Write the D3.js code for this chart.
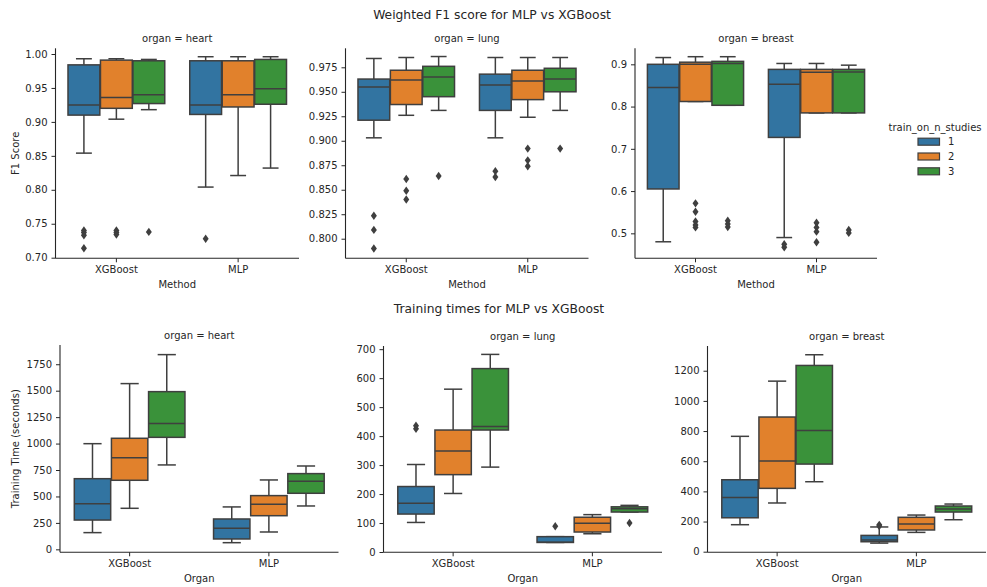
<!DOCTYPE html>
<html>
<head>
<meta charset="utf-8">
<script src="https://cdn.jsdelivr.net/npm/d3@7"></script>
<style>
  body { margin: 0; background: #fff; }
  svg { display: block; font-family: "DejaVu Sans", sans-serif; }
</style>
</head>
<body>
<svg id="chart" width="987" height="587"></svg>
<script>
// ---- data ----
const methods = ["XGBoost", "MLP"];
const studies = ["1", "2", "3"];
const organs = ["heart", "lung", "breast"];

// Box statistics per method x studies: [whiskerLow, q1, median, q3, whiskerHigh, outliers]
// order: XGBoost-1, XGBoost-2, XGBoost-3, MLP-1, MLP-2, MLP-3
const f1Heart = [
  [0.854, 0.910, 0.925, 0.984, 0.993, [0.740, 0.737, 0.733, 0.714]],
  [0.904, 0.920, 0.936, 0.991, 0.993, [0.740, 0.737, 0.734]],
  [0.918, 0.927, 0.940, 0.990, 0.992, [0.738]],
  [0.804, 0.911, 0.925, 0.990, 0.996, [0.728]],
  [0.821, 0.922, 0.940, 0.990, 0.996, []],
  [0.832, 0.926, 0.949, 0.992, 0.996, []]
];
const f1Lung = [
  [0.903, 0.921, 0.955, 0.963, 0.984, [0.8235, 0.809, 0.790]],
  [0.926, 0.937, 0.962, 0.972, 0.985, [0.861, 0.849, 0.840]],
  [0.931, 0.945, 0.965, 0.976, 0.986, [0.864]],
  [0.903, 0.931, 0.957, 0.968, 0.985, [0.869, 0.863]],
  [0.924, 0.942, 0.961, 0.972, 0.985, [0.892, 0.880, 0.874]],
  [0.931, 0.950, 0.963, 0.974, 0.985, [0.892]]
];
const f1Breast = [
  [0.480, 0.605, 0.845, 0.900, 0.916, []],
  [0.812, 0.812, 0.900, 0.905, 0.918, [0.571, 0.551, 0.528, 0.520, 0.514]],
  [0.803, 0.803, 0.902, 0.907, 0.918, [0.530, 0.522, 0.515]],
  [0.490, 0.727, 0.853, 0.888, 0.902, [0.474, 0.467]],
  [0.785, 0.785, 0.881, 0.888, 0.902, [0.525, 0.514, 0.504, 0.479]],
  [0.785, 0.785, 0.882, 0.888, 0.898, [0.508, 0.501]]
];
const timeHeart = [
  [158, 277, 432, 668, 999, []],
  [388, 653, 867, 1050, 1567, []],
  [798, 1059, 1189, 1491, 1841, []],
  [63, 98, 199, 287, 401, []],
  [164, 318, 426, 508, 656, []],
  [410, 530, 643, 716, 788, []]
];
const timeLung = [
  [102, 131, 168, 226, 302, [436, 425]],
  [202, 267, 349, 421, 562, []],
  [293, 421, 433, 633, 682, []],
  [33, 33, 34, 53, 53, [89]],
  [63, 69, 99, 120, 129, []],
  [138, 138, 149, 156, 161, [100]]
];
const timeBreast = [
  [179, 225, 360, 477, 765, []],
  [323, 420, 601, 893, 1131, []],
  [464, 581, 804, 1235, 1306, []],
  [57, 66, 77, 108, 164, [178, 170]],
  [128, 144, 183, 228, 243, []],
  [212, 263, 283, 303, 316, []]
];

const f1Ticks = {
  heart: [0.70, 0.75, 0.80, 0.85, 0.90, 0.95, 1.00],
  lung: [0.800, 0.825, 0.850, 0.875, 0.900, 0.925, 0.950, 0.975],
  breast: [0.5, 0.6, 0.7, 0.8, 0.9]
};
const timeTicks = {
  heart: [0, 250, 500, 750, 1000, 1250, 1500, 1750],
  lung: [0, 100, 200, 300, 400, 500, 600, 700],
  breast: [0, 200, 400, 600, 800, 1000, 1200]
};

// ---- styling ----
const palette = ["#3274a1", "#e1812c", "#3a923a"];
const lineColor = "#3f3f3f";
const axisColor = "#262626";

const svg = d3.select("#chart");

// panel frames
const panels = [
  { data: f1Heart,    organ: "heart",  x: [55.5, 299],  y: [258.3, 48.3], dom: [0.6991, 1.0084], ticks: f1Ticks.heart,  fmt: d3.format(".2f"), xlabel: "Method", ylabel: "F1 Score" },
  { data: f1Lung,     organ: "lung",   x: [345.5, 588.5], y: [258.3, 48.3], dom: [0.780, 0.9944], ticks: f1Ticks.lung, fmt: d3.format(".3f"), xlabel: "Method" },
  { data: f1Breast,   organ: "breast", x: [635, 877], y: [258.3, 48.3], dom: [0.4409, 0.9379], ticks: f1Ticks.breast, fmt: d3.format(".1f"), xlabel: "Method" },
  { data: timeHeart,  organ: "heart",  x: [60, 338.5], y: [552.3, 345], dom: [-28, 1932], ticks: timeTicks.heart, fmt: d3.format("d"), xlabel: "Organ", ylabel: "Training Time (seconds)" },
  { data: timeLung,   organ: "lung",   x: [383.5, 662], y: [552.3, 346], dom: [-1, 711], ticks: timeTicks.lung, fmt: d3.format("d"), xlabel: "Organ" },
  { data: timeBreast, organ: "breast", x: [707.5, 986], y: [552.3, 346], dom: [-4, 1364], ticks: timeTicks.breast, fmt: d3.format("d"), xlabel: "Organ" }
];

const diamond = "M0,-4.2L3,0L0,4.2L-3,0Z";

panels.forEach(p => {
  const x = d3.scaleBand().domain(methods).range(p.x).padding(0);
  const y = d3.scaleLinear().domain(p.dom).range(p.y);
  const g = svg.append("g");
  const bw = x.bandwidth();
  const hueW = bw * 0.8 / studies.length;
  const boxW = hueW * 0.98;

  // boxes
  p.data.forEach((s, k) => {
    const m = methods[Math.floor(k / 3)];
    const j = k % 3;
    const cx = x(m) + bw / 2 - bw * 0.4 + hueW * (j + 0.5);
    const [lo, q1, med, q3, hi, out] = s;
    const bg = g.append("g");
    // whiskers
    bg.append("line").attr("x1", cx).attr("x2", cx).attr("y1", y(q3)).attr("y2", y(hi))
      .attr("stroke", lineColor).attr("stroke-width", 1.5);
    bg.append("line").attr("x1", cx).attr("x2", cx).attr("y1", y(q1)).attr("y2", y(lo))
      .attr("stroke", lineColor).attr("stroke-width", 1.5);
    // caps
    [lo, hi].forEach(v => {
      bg.append("line").attr("x1", cx - boxW / 4).attr("x2", cx + boxW / 4)
        .attr("y1", y(v)).attr("y2", y(v))
        .attr("stroke", lineColor).attr("stroke-width", 1.5);
    });
    // box
    bg.append("rect").attr("x", cx - boxW / 2).attr("width", boxW)
      .attr("y", y(q3)).attr("height", Math.max(0, y(q1) - y(q3)))
      .attr("fill", palette[j]).attr("stroke", lineColor).attr("stroke-width", 1.5);
    // median
    bg.append("line").attr("x1", cx - boxW / 2).attr("x2", cx + boxW / 2)
      .attr("y1", y(med)).attr("y2", y(med))
      .attr("stroke", lineColor).attr("stroke-width", 1.5);
    // outliers
    out.forEach(v => {
      bg.append("path").attr("d", diamond)
        .attr("transform", `translate(${cx},${y(v)})`)
        .attr("fill", lineColor);
    });
  });

  // axes
  const yAxis = d3.axisLeft(y).tickValues(p.ticks).tickFormat(p.fmt).tickSize(4).tickPadding(4);
  const ya = g.append("g").attr("transform", `translate(${p.x[0]},0)`).call(yAxis);
  const xAxis = d3.axisBottom(x).tickSize(4).tickPadding(3.5);
  const xa = g.append("g").attr("transform", `translate(0,${p.y[0]})`).call(xAxis);
  [ya, xa].forEach(a => {
    a.select(".domain").attr("stroke", axisColor).attr("stroke-width", 1.1)
      .attr("d", a === ya ? `M0,${p.y[0]}V${p.y[1]}` : `M${p.x[0]},0H${p.x[1]}`);
    a.selectAll(".tick line").attr("stroke", axisColor).attr("stroke-width", 1);
    a.selectAll(".tick text").attr("fill", axisColor).attr("font-size", 10)
      .attr("font-family", "DejaVu Sans, sans-serif");
  });

  // facet title
  g.append("text").attr("x", (p.x[0] + p.x[1]) / 2).attr("y", p.y[1] - 6)
    .attr("text-anchor", "middle").attr("font-size", 10).attr("fill", axisColor)
    .text(`organ = ${p.organ}`);
  // x label
  g.append("text").attr("x", (p.x[0] + p.x[1]) / 2).attr("y", p.y[0] + 30)
    .attr("text-anchor", "middle").attr("font-size", 10).attr("fill", axisColor)
    .text(p.xlabel);
  // y label
  if (p.ylabel) {
    g.append("text")
      .attr("transform", `translate(19,${(p.y[0] + p.y[1]) / 2}) rotate(-90)`)
      .attr("text-anchor", "middle").attr("font-size", 10).attr("fill", axisColor)
      .text(p.ylabel);
  }
});

// figure titles
svg.append("text").attr("x", 492).attr("y", 18.5).attr("text-anchor", "middle")
  .attr("font-size", 12.3).attr("fill", axisColor).text("Weighted F1 score for MLP vs XGBoost");
svg.append("text").attr("x", 499).attr("y", 313).attr("text-anchor", "middle")
  .attr("font-size", 12.3).attr("fill", axisColor).text("Training times for MLP vs XGBoost");

// legend
const legend = svg.append("g");
legend.append("text").attr("x", 935).attr("y", 130.5).attr("text-anchor", "middle")
  .attr("font-size", 10).attr("fill", axisColor).text("train_on_n_studies");
studies.forEach((s, i) => {
  const cy = 141.7 + i * 14.8;
  legend.append("rect").attr("x", 918).attr("y", cy - 3.5).attr("width", 21.5).attr("height", 7)
    .attr("fill", palette[i]).attr("stroke", lineColor).attr("stroke-width", 1.2);
  legend.append("text").attr("x", 948).attr("y", cy + 3.5).attr("font-size", 10)
    .attr("fill", axisColor).text(s);
});
</script>
</body>
</html>
